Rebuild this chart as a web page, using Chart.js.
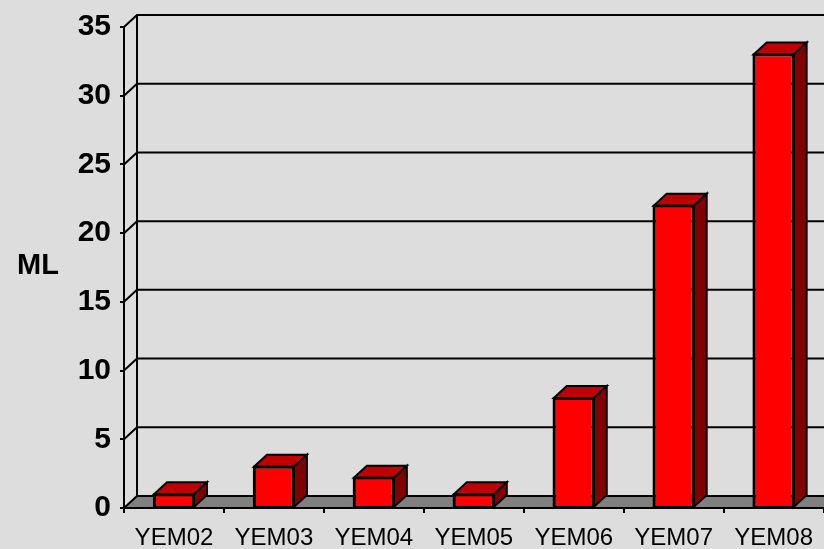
<!DOCTYPE html>
<html>
<head>
<meta charset="utf-8">
<script src="https://cdn.jsdelivr.net/npm/chart.js@4"></script>
<style>
  html, body { margin: 0; padding: 0; background: #dddddd; }
  #wrap { width: 824px; height: 549px; }
</style>
</head>
<body>
<div id="wrap"><canvas id="mlChart"></canvas></div>
<script>
// data
const categories = ['YEM02', 'YEM03', 'YEM04', 'YEM05', 'YEM06', 'YEM07', 'YEM08'];
const mlValues = [1, 3, 2.2, 1, 8, 22, 33];
const yTicks = [0, 5, 10, 15, 20, 25, 30, 35];

const DX = 13, DY = 12; // 3d depth offset

// back wall, side wall diagonals and floor
const wallPlugin = {
    id: 'wall3d',
    beforeDatasetsDraw(chart) {
        const ctx = chart.ctx;
        const area = chart.chartArea;
        const yScale = chart.scales.y;
        const W = chart.width;
        ctx.save();
        ctx.strokeStyle = '#000';
        ctx.lineWidth = 2;
        yTicks.forEach(function(v) {
            if (v === 0) return;
            const py = yScale.getPixelForValue(v);
            ctx.beginPath();
            ctx.moveTo(area.left, py);
            ctx.lineTo(area.left + DX, py - DY);
            ctx.lineTo(W, py - DY);
            ctx.stroke();
        });
        // back wall left edge
        const base = yScale.getPixelForValue(0);
        ctx.beginPath();
        ctx.moveTo(area.left + DX, yScale.getPixelForValue(35) - DY);
        ctx.lineTo(area.left + DX, base - DY);
        ctx.stroke();
        // floor
        ctx.beginPath();
        ctx.moveTo(area.left, base);
        ctx.lineTo(area.left + DX, base - DY);
        ctx.lineTo(W + 2, base - DY);
        ctx.lineTo(W + 2, base);
        ctx.closePath();
        ctx.fillStyle = '#808080';
        ctx.fill();
        ctx.stroke();
        ctx.restore();
    },
    afterDatasetsDraw(chart) {
        const ctx = chart.ctx;
        const meta = chart.getDatasetMeta(0);
        ctx.save();
        ctx.strokeStyle = '#000';
        ctx.lineWidth = 2;
        ctx.lineJoin = 'miter';
        meta.data.forEach(function(bar) {
            const p = bar.getProps(['x', 'y', 'base', 'width'], true);
            const l = p.x - p.width / 2, r = p.x + p.width / 2;
            // top face
            ctx.beginPath();
            ctx.moveTo(l, p.y);
            ctx.lineTo(l + DX, p.y - DY);
            ctx.lineTo(r + DX, p.y - DY);
            ctx.lineTo(r, p.y);
            ctx.closePath();
            ctx.fillStyle = '#c00000';
            ctx.fill();
            ctx.stroke();
            // side face
            ctx.beginPath();
            ctx.moveTo(r, p.y);
            ctx.lineTo(r + DX, p.y - DY);
            ctx.lineTo(r + DX, p.base - DY);
            ctx.lineTo(r, p.base);
            ctx.closePath();
            ctx.fillStyle = '#800000';
            ctx.fill();
            ctx.stroke();
            // front face outline again
            ctx.strokeRect(l, p.y, p.width, p.base - p.y);
        });
        // axis title, horizontal
        ctx.fillStyle = '#000';
        ctx.font = 'bold 29px "Liberation Sans", Arial, sans-serif';
        ctx.textAlign = 'left';
        ctx.textBaseline = 'middle';
        ctx.fillText('ML', 17, 266);
        ctx.restore();
    }
};

const ctx = document.getElementById('mlChart').getContext('2d');
const mlChart = new Chart(ctx, {
    type: 'bar',
    data: {
        labels: categories,
        datasets: [{
            data: mlValues,
            backgroundColor: '#ff0000',
            borderColor: '#000',
            borderWidth: 2,
            barPercentage: 0.4,
            categoryPercentage: 1.0
        }]
    },
    options: {
        responsive: true,
        maintainAspectRatio: false,
        animation: false,
        layout: { padding: { top: 25, right: 0, left: 0, bottom: 0 } },
        plugins: {
            legend: { display: false },
            tooltip: { enabled: false }
        },
        scales: {
            x: {
                grid: { display: true, drawOnChartArea: false, drawTicks: true, tickLength: 5, color: '#000', lineWidth: 2 },
                border: { display: true, color: '#000', width: 2 },
                ticks: {
                    color: '#000',
                    padding: 11,
                    maxRotation: 0,
                    font: { family: '"Liberation Sans", Arial, sans-serif', size: 24 }
                },
                afterFit: function(scale) { scale.height = 41; }
            },
            y: {
                min: 0,
                max: 35,
                grid: { display: true, drawOnChartArea: false, drawTicks: true, tickLength: 4, color: '#000', lineWidth: 2 },
                border: { display: true, color: '#000', width: 2 },
                ticks: {
                    stepSize: 5,
                    color: '#000',
                    padding: 9,
                    font: { family: '"Liberation Sans", Arial, sans-serif', size: 30, weight: 'bold' }
                },
                afterFit: function(scale) { scale.width = 124; }
            }
        }
    },
    plugins: [wallPlugin]
});
</script>
</body>
</html>
